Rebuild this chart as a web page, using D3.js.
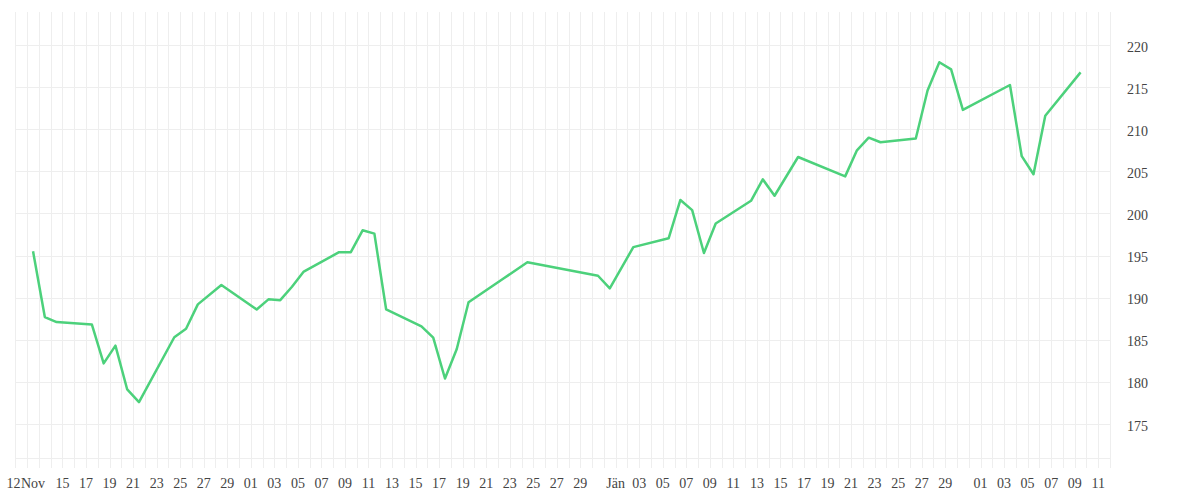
<!doctype html>
<html>
<head>
    <meta charset="UTF-8">
    <title>Kursverlauf</title>
    <script src="https://d3js.org/d3.v7.min.js"></script>
    <style>
        body { margin: 0; background: #fff; }
        text { font-family: "Liberation Serif", "DejaVu Serif", serif; fill: #444; }
    </style>
</head>
<body>
    <svg id="chart" width="1200" height="500"></svg>

    <script>
        // trading days (close values)
        var dates = [
            "2025-11-12", "2025-11-13", "2025-11-14", "2025-11-17", "2025-11-18", "2025-11-19",
            "2025-11-20", "2025-11-21", "2025-11-24", "2025-11-25", "2025-11-26", "2025-11-28",
            "2025-12-01", "2025-12-02", "2025-12-03", "2025-12-04", "2025-12-05", "2025-12-08",
            "2025-12-09", "2025-12-10", "2025-12-11", "2025-12-12", "2025-12-15", "2025-12-16",
            "2025-12-17", "2025-12-18", "2025-12-19", "2025-12-22", "2025-12-24", "2025-12-30",
            "2025-12-31", "2026-01-02", "2026-01-05", "2026-01-06", "2026-01-07", "2026-01-08",
            "2026-01-09", "2026-01-12", "2026-01-13", "2026-01-14", "2026-01-16", "2026-01-20",
            "2026-01-21", "2026-01-22", "2026-01-23", "2026-01-26", "2026-01-27", "2026-01-28",
            "2026-01-29", "2026-01-30", "2026-02-03", "2026-02-04", "2026-02-05", "2026-02-06",
            "2026-02-09"
        ];
        var closes = [
            195.5, 187.7, 187.1, 186.8, 182.2, 184.3,
            179.1, 177.6, 185.3, 186.3, 189.2, 191.5,
            188.6, 189.8, 189.7, 191.3, 193.1, 195.4,
            195.4, 198.0, 197.6, 188.6, 186.6, 185.25,
            180.4, 183.9, 189.45, 192.3, 194.2, 192.6,
            191.1, 196.0, 197.05, 201.6, 200.4, 195.3,
            198.8, 201.5, 204.05, 202.1, 206.7, 204.4,
            207.5, 209.0, 208.45, 208.9, 214.6, 217.95,
            217.1, 212.3, 215.25, 206.8, 204.65, 211.6,
            216.75
        ];

        // axis labels
        var xTickDates = [
            "2025-11-10T20:00", "2025-11-12T12:00",
            "2025-11-15", "2025-11-17", "2025-11-19", "2025-11-21", "2025-11-23", "2025-11-25",
            "2025-11-27", "2025-11-29", "2025-12-01", "2025-12-03", "2025-12-05", "2025-12-07",
            "2025-12-09", "2025-12-11", "2025-12-13", "2025-12-15", "2025-12-17", "2025-12-19",
            "2025-12-21", "2025-12-23", "2025-12-25", "2025-12-27", "2025-12-29", "2026-01-01",
            "2026-01-03", "2026-01-05", "2026-01-07", "2026-01-09", "2026-01-11", "2026-01-13",
            "2026-01-15", "2026-01-17", "2026-01-19", "2026-01-21", "2026-01-23", "2026-01-25",
            "2026-01-27", "2026-01-29", "2026-02-01", "2026-02-03", "2026-02-05", "2026-02-07",
            "2026-02-09", "2026-02-11"
        ];
        var xTickLabels = [
            "12", "Nov",
            "15", "17", "19", "21", "23", "25",
            "27", "29", "01", "03", "05", "07",
            "09", "11", "13", "15", "17", "19",
            "21", "23", "25", "27", "29", "Jän",
            "03", "05", "07", "09", "11", "13",
            "15", "17", "19", "21", "23", "25",
            "27", "29", "01", "03", "05", "07",
            "09", "11"
        ];
        var yTicks = [175, 180, 185, 190, 195, 200, 205, 210, 215, 220];

        var gridLeft = 15.4, gridRight = 1110;
        var plotTop = 12, plotBottom = 458;

        function utc(s) {
            return new Date(s.length == 10 ? s + "T12:00:00Z" : s + ":00Z");
        }

        var data = dates.map(function(d, i){
            return { date: utc(dates[i]), value: closes[i] };
        });

        var x = d3.scaleUtc()
            .domain([new Date("2025-11-11T00:00:00Z"), new Date("2026-02-12T00:00:00Z")])
            .range([gridLeft, gridRight]);

        var y = d3.scaleLinear()
            .domain([175, 220])
            .range([424, 45]);

        var svg = d3.select("#chart");

        // vertical day grid
        var days = d3.utcDay.range(x.domain()[0], d3.utcDay.offset(x.domain()[1], 1));
        svg.append("g")
            .selectAll("line")
            .data(days)
            .enter().append("line")
            .attr("x1", function(d){ return Math.round(x(d)) + 0.5; })
            .attr("x2", function(d){ return Math.round(x(d)) + 0.5; })
            .attr("y1", plotTop)
            .attr("y2", plotBottom + 10)
            .attr("stroke", "#eeeeee")
            .attr("stroke-width", 1);

        // horizontal grid
        svg.append("g")
            .selectAll("line")
            .data(yTicks)
            .enter().append("line")
            .attr("x1", gridLeft)
            .attr("x2", gridRight)
            .attr("y1", function(d){ return Math.round(y(d)) + 0.5; })
            .attr("y2", function(d){ return Math.round(y(d)) + 0.5; })
            .attr("stroke", "#eeeeee")
            .attr("stroke-width", 1);

        svg.append("line")
            .attr("x1", gridLeft)
            .attr("x2", gridRight)
            .attr("y1", plotBottom + 0.5)
            .attr("y2", plotBottom + 0.5)
            .attr("stroke", "#eeeeee");

        // y labels on the right
        svg.append("g")
            .selectAll("text")
            .data(yTicks)
            .enter().append("text")
            .attr("x", 1127)
            .attr("y", function(d){ return y(d) + 6.5; })
            .attr("font-size", 14)
            .text(function(d){ return d; });

        // x labels
        svg.append("g")
            .selectAll("text")
            .data(xTickDates)
            .enter().append("text")
            .attr("x", function(d){ return x(utc(d.length == 10 ? d + "T00:00" : d)); })
            .attr("y", 488)
            .attr("text-anchor", "middle")
            .attr("font-size", 14)
            .text(function(d, i){ return xTickLabels[i]; });

        // price line
        var line = d3.line()
            .x(function(d){ return x(d.date); })
            .y(function(d){ return y(d.value); });

        svg.append("path")
            .datum(data)
            .attr("d", line)
            .attr("fill", "none")
            .attr("stroke", "#4cd17b")
            .attr("stroke-width", 2.5)
            .attr("stroke-linejoin", "round");
    </script>
</body>
</html>
